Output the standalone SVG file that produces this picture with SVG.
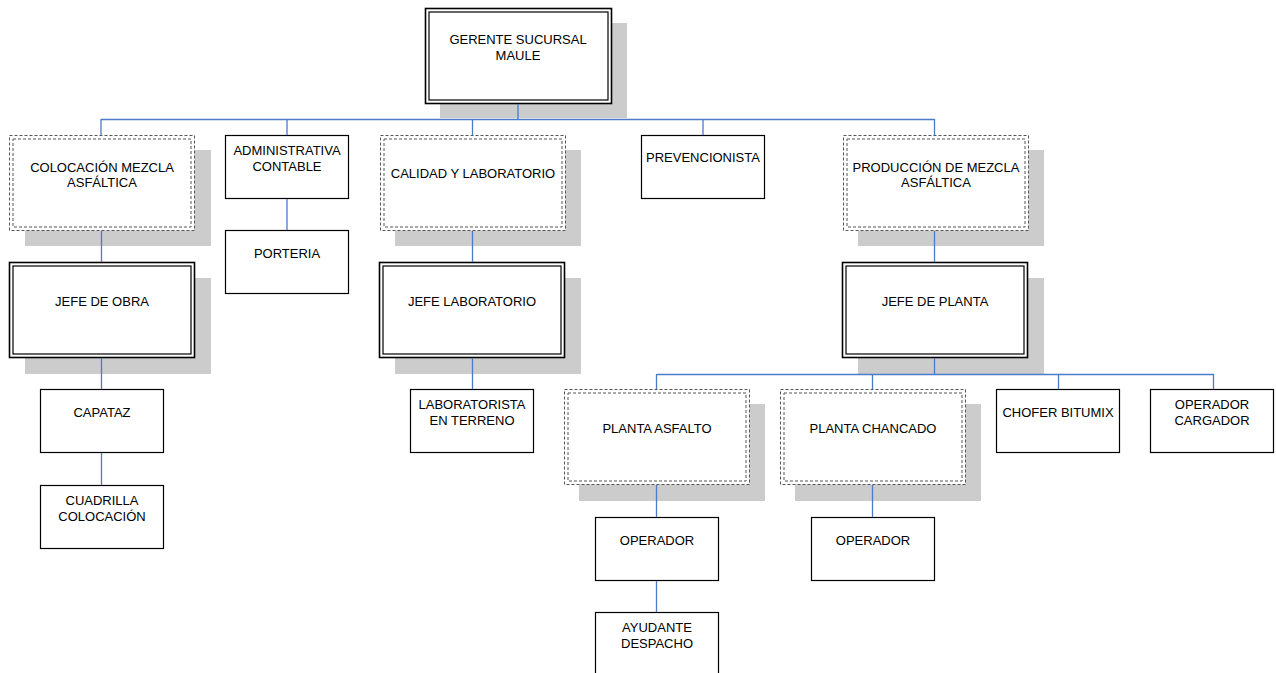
<svg xmlns="http://www.w3.org/2000/svg" width="1276" height="673" viewBox="0 0 1276 673">
<style>
text{font-family:"Liberation Sans",Arial,sans-serif;font-size:13px;fill:#000;text-anchor:middle}
.sh{fill:#cccccc}
.bx{fill:#fff;stroke:#000;stroke-width:1.2}
.dbo{fill:#fff;stroke:#000;stroke-width:1.6}
.dbi{fill:none;stroke:#000;stroke-width:1.2}
.dso{fill:#fff;stroke:#555;stroke-width:1;stroke-dasharray:3 2}
.dsi{fill:none;stroke:#555;stroke-width:1;stroke-dasharray:3 2}
.cn{fill:none;stroke:#4a7cc7;stroke-width:1.3}
</style>
<rect width="1276" height="673" fill="#fff"/>
<g id="gerente">
<rect class="sh" x="440" y="23" width="187" height="95"/>
<rect class="dbo" x="425.5" y="8.5" width="186" height="95"/>
<rect class="dbi" x="429" y="12" width="179" height="88"/>
<text x="518" y="44">GERENTE SUCURSAL</text><text x="518" y="60">MAULE</text>
</g>
<g id="colocacion">
<rect class="sh" x="25" y="150" width="186" height="96"/>
<rect class="dso" x="9.5" y="135.5" width="185" height="95"/>
<rect class="dsi" x="13" y="139" width="178" height="88"/>
<text x="102" y="172">COLOCACIÓN MEZCLA</text><text x="102" y="187">ASFÁLTICA</text>
</g>
<g id="administrativa">
<rect class="bx" x="225.5" y="135.5" width="123" height="63"/>
<text x="287" y="155">ADMINISTRATIVA</text><text x="287" y="171">CONTABLE</text>
</g>
<g id="calidad">
<rect class="sh" x="395" y="150" width="186" height="96"/>
<rect class="dso" x="380.5" y="135.5" width="185" height="95"/>
<rect class="dsi" x="384" y="139" width="178" height="88"/>
<text x="473" y="178">CALIDAD Y LABORATORIO</text>
</g>
<g id="prevencionista">
<rect class="bx" x="641.5" y="135.5" width="123" height="63"/>
<text x="703" y="162">PREVENCIONISTA</text>
</g>
<g id="produccion">
<rect class="sh" x="858" y="150" width="186" height="96"/>
<rect class="dso" x="843.5" y="135.5" width="185" height="95"/>
<rect class="dsi" x="847" y="139" width="178" height="88"/>
<text x="936" y="172">PRODUCCIÓN DE MEZCLA</text><text x="936" y="187">ASFÁLTICA</text>
</g>
<g id="jefe-obra">
<rect class="sh" x="25" y="278" width="186" height="96"/>
<rect class="dbo" x="9.5" y="262.5" width="185" height="95"/>
<rect class="dbi" x="13" y="266" width="178" height="88"/>
<text x="102" y="306">JEFE DE OBRA</text>
</g>
<g id="porteria">
<rect class="bx" x="225.5" y="230.5" width="123" height="63"/>
<text x="287" y="258">PORTERIA</text>
</g>
<g id="jefe-laboratorio">
<rect class="sh" x="395" y="278" width="186" height="96"/>
<rect class="dbo" x="379.5" y="262.5" width="185" height="95"/>
<rect class="dbi" x="383" y="266" width="178" height="88"/>
<text x="472" y="306">JEFE LABORATORIO</text>
</g>
<g id="jefe-planta">
<rect class="sh" x="858" y="278" width="186" height="96"/>
<rect class="dbo" x="842.5" y="262.5" width="185" height="95"/>
<rect class="dbi" x="846" y="266" width="178" height="88"/>
<text x="935" y="306">JEFE DE PLANTA</text>
</g>
<g id="capataz">
<rect class="bx" x="40.5" y="389.5" width="123" height="63"/>
<text x="102" y="417">CAPATAZ</text>
</g>
<g id="cuadrilla">
<rect class="bx" x="40.5" y="485.5" width="123" height="63"/>
<text x="102" y="505">CUADRILLA</text><text x="102" y="521">COLOCACIÓN</text>
</g>
<g id="laboratorista">
<rect class="bx" x="410.5" y="389.5" width="123" height="63"/>
<text x="472" y="409">LABORATORISTA</text><text x="472" y="425">EN TERRENO</text>
</g>
<g id="planta-asfalto">
<rect class="sh" x="579" y="404" width="186" height="97"/>
<rect class="dso" x="564.5" y="389.5" width="185" height="95"/>
<rect class="dsi" x="568" y="393" width="178" height="88"/>
<text x="657" y="433">PLANTA ASFALTO</text>
</g>
<g id="planta-chancado">
<rect class="sh" x="795" y="404" width="186" height="97"/>
<rect class="dso" x="780.5" y="389.5" width="185" height="95"/>
<rect class="dsi" x="784" y="393" width="178" height="88"/>
<text x="873" y="433">PLANTA CHANCADO</text>
</g>
<g id="chofer-bitumix">
<rect class="bx" x="996.5" y="389.5" width="123" height="63"/>
<text x="1058" y="417">CHOFER BITUMIX</text>
</g>
<g id="operador-cargador">
<rect class="bx" x="1150.5" y="389.5" width="123" height="63"/>
<text x="1212" y="409">OPERADOR</text><text x="1212" y="425">CARGADOR</text>
</g>
<g id="operador-asfalto">
<rect class="bx" x="595.5" y="517.5" width="123" height="63"/>
<text x="657" y="545">OPERADOR</text>
</g>
<g id="ayudante-despacho">
<rect class="bx" x="595.5" y="612.5" width="123" height="70"/>
<text x="657" y="632">AYUDANTE</text><text x="657" y="648">DESPACHO</text>
</g>
<g id="operador-chancado">
<rect class="bx" x="811.5" y="517.5" width="123" height="63"/>
<text x="873" y="545">OPERADOR</text>
</g>
<g id="connectors">
<path class="cn" d="M518 104V119.5M101 119.5H934.5M101 119V135M287 119V135M472.5 119V135M703 119V135M934.5 119V135"/>
<path class="cn" d="M101.5 231V262M101.5 358V389M101.5 453V485"/>
<path class="cn" d="M287 199V230"/>
<path class="cn" d="M472.5 231V262M472.5 358V389"/>
<path class="cn" d="M934.5 231V262M934.5 358V374.5M656.5 374.5H1213.5M656.5 374V389M872.5 374V389M1058.5 374V389M1213.5 374V389"/>
<path class="cn" d="M656.5 485V517M656.5 581V612"/>
<path class="cn" d="M872.5 485V517"/>
</g>
</svg>
